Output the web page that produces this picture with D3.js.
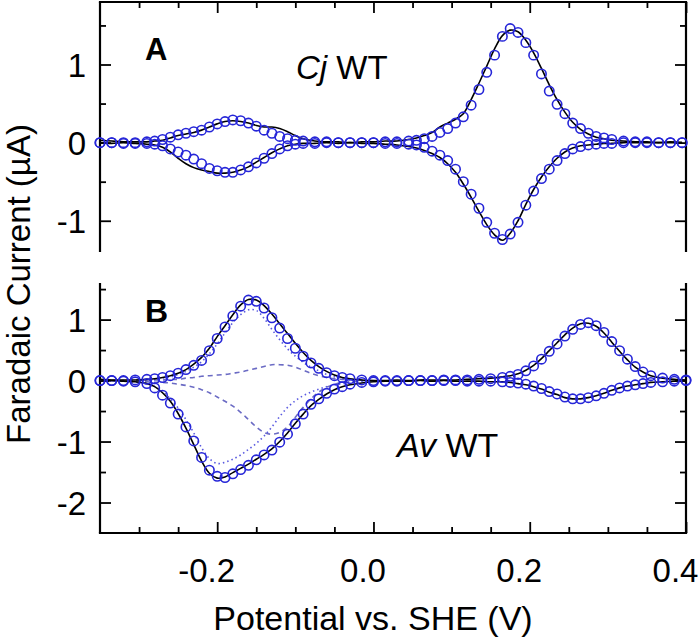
<!DOCTYPE html>
<html><head><meta charset="utf-8">
<script src="https://cdn.jsdelivr.net/npm/d3@7"></script>
<style>body{margin:0;background:#fff}svg{display:block}text{font-family:"Liberation Sans",Arial,Helvetica,sans-serif}</style>
</head><body>
<script>
// ---- Data ----
const potA = [-0.35,-0.335,-0.32,-0.305,-0.29,
  -0.28,-0.27,-0.26,-0.25,-0.24,-0.23,-0.22,-0.21,-0.2,-0.19,-0.18,-0.17,-0.16,-0.15,-0.14,-0.13,-0.12,-0.11,-0.1,-0.09,
  -0.075,-0.06,-0.045,-0.03,-0.015,0,0.015,0.03,0.045,
  0.055,0.065,0.075,0.085,0.095,0.105,0.115,0.125,0.135,0.145,0.155,0.165,0.175,0.185,0.195,0.205,0.215,0.225,0.235,0.245,0.255,0.265,0.275,0.285,0.295,0.305,
  0.32,0.335,0.35,0.365,0.38,0.395];
const fitUpA = [0,0,0,0,0.01,
  0.02,0.04,0.07,0.1,0.12,0.14,0.16,0.2,0.24,0.27,0.29,0.28,0.25,0.21,0.16,0.12,0.08,0.05,0.03,0.02,
  0.01,0.01,0,0,0,0,0.01,0.01,0.02,
  0.03,0.05,0.08,0.13,0.18,0.25,0.33,0.48,0.68,0.9,1.12,1.36,1.46,1.41,1.28,1.12,0.88,0.66,0.49,0.37,0.25,0.18,0.12,0.08,0.06,0.04,
  0.02,0.01,0.01,0,0,0];
const fitLoA = [0,0,-0.01,-0.01,-0.01,
  -0.02,-0.04,-0.08,-0.12,-0.16,-0.21,-0.27,-0.33,-0.36,-0.38,-0.38,-0.35,-0.31,-0.26,-0.2,-0.14,-0.08,-0.04,-0.02,-0.01,
  -0.01,0,0,0,0,0,-0.01,-0.01,-0.02,
  -0.03,-0.06,-0.11,-0.16,-0.23,-0.34,-0.5,-0.66,-0.84,-1.02,-1.16,-1.24,-1.17,-1.02,-0.8,-0.62,-0.46,-0.34,-0.23,-0.14,-0.08,-0.05,-0.03,-0.02,-0.01,-0.01,
  0,0,0,0,0,0];
const expUpA = [0.03,0.02,0.01,0.01,0.01,
  0.02,0.03,0.06,0.09,0.11,0.13,0.16,0.2,0.24,0.27,0.28,0.27,0.25,0.22,0.2,0.2,0.18,0.14,0.09,0.05,
  0.02,0.01,0.01,0,0.01,0.01,0.02,0.02,0.04,
  0.06,0.09,0.13,0.2,0.25,0.3,0.37,0.55,0.76,0.98,1.2,1.37,1.44,1.42,1.31,1.15,0.95,0.74,0.55,0.39,0.26,0.17,0.11,0.07,0.05,0.03,
  0.02,0.01,0.01,0,0.01,0];
const expLoA = [0,-0.01,0,-0.01,-0.02,
  -0.03,-0.06,-0.12,-0.2,-0.27,-0.32,-0.35,-0.37,-0.39,-0.39,-0.38,-0.35,-0.31,-0.25,-0.19,-0.13,-0.08,-0.04,-0.02,-0.01,
  -0.01,0,-0.01,0,-0.01,-0.01,-0.02,-0.03,-0.05,
  -0.07,-0.1,-0.14,-0.19,-0.27,-0.38,-0.53,-0.7,-0.88,-1.05,-1.18,-1.25,-1.16,-1.0,-0.79,-0.6,-0.44,-0.31,-0.2,-0.12,-0.07,-0.04,-0.03,-0.02,-0.01,-0.01,
  0,0,0,0,0,0];

const potB = [-0.35,-0.335,-0.32,-0.305,-0.29,
  -0.28,-0.27,-0.26,-0.25,-0.24,-0.23,-0.22,-0.21,-0.2,-0.19,-0.18,-0.17,-0.16,-0.15,-0.14,-0.13,-0.12,-0.11,-0.1,-0.09,-0.08,-0.07,-0.06,-0.05,-0.04,-0.03,
  -0.015,0,0.015,0.03,0.045,0.06,0.075,0.09,0.105,0.12,0.135,0.15,0.165,
  0.175,0.185,0.195,0.205,0.215,0.225,0.235,0.245,0.255,0.265,0.275,0.285,0.295,0.305,0.315,0.325,0.335,0.345,0.355,
  0.37,0.385,0.4];
const fitUpB = [0,0,0,0.01,0.02,
  0.03,0.05,0.08,0.12,0.18,0.25,0.33,0.49,0.69,0.88,1.06,1.22,1.32,1.3,1.19,1.03,0.86,0.69,0.53,0.4,0.29,0.2,0.13,0.08,0.05,0.03,
  0.01,0,0,0,0,0,0,0.01,0.01,0.01,0.02,0.03,0.05,
  0.07,0.1,0.16,0.24,0.35,0.48,0.6,0.73,0.84,0.92,0.95,0.9,0.79,0.64,0.49,0.35,0.23,0.14,0.08,
  0.04,0.02,0.01];
const fitLoB = [0,0,-0.01,-0.02,-0.05,
  -0.12,-0.24,-0.37,-0.55,-0.76,-0.99,-1.26,-1.47,-1.57,-1.59,-1.53,-1.46,-1.39,-1.3,-1.22,-1.14,-1.01,-0.88,-0.71,-0.55,-0.39,-0.3,-0.21,-0.14,-0.1,-0.06,
  -0.03,-0.02,-0.01,-0.01,0,0,0,0,0,-0.01,-0.01,-0.01,-0.02,
  -0.03,-0.04,-0.06,-0.09,-0.13,-0.18,-0.22,-0.27,-0.3,-0.3,-0.28,-0.25,-0.21,-0.16,-0.12,-0.09,-0.07,-0.05,-0.03,
  -0.02,-0.01,0];
const expUpB = [0.02,0.01,0.01,0.01,0.02,
  0.03,0.05,0.08,0.12,0.18,0.27,0.38,0.53,0.72,0.9,1.08,1.24,1.33,1.32,1.23,1.09,0.93,0.77,0.61,0.46,0.33,0.23,0.15,0.09,0.05,0.03,
  0.01,0,0,0.01,0,0.01,0.01,0.01,0.01,0.02,0.03,0.04,0.06,
  0.08,0.11,0.17,0.25,0.36,0.49,0.62,0.75,0.86,0.93,0.94,0.89,0.78,0.63,0.48,0.34,0.22,0.14,0.08,
  0.04,0.02,0.01];
const expLoB = [-0.01,0,-0.01,-0.02,-0.05,
  -0.1,-0.2,-0.34,-0.54,-0.78,-1.05,-1.32,-1.52,-1.6,-1.58,-1.51,-1.44,-1.37,-1.29,-1.21,-1.12,-1.0,-0.86,-0.7,-0.55,-0.41,-0.31,-0.22,-0.15,-0.1,-0.07,
  -0.04,-0.02,-0.01,-0.01,-0.01,0,-0.01,0,-0.01,-0.01,-0.01,-0.02,-0.02,
  -0.03,-0.05,-0.07,-0.1,-0.14,-0.19,-0.23,-0.28,-0.3,-0.3,-0.28,-0.25,-0.21,-0.16,-0.12,-0.09,-0.07,-0.05,-0.03,
  -0.02,-0.01,0];

const potCompB = [-0.35,-0.34,-0.33,-0.32,-0.31,-0.3,-0.29,-0.28,-0.27,-0.26,-0.25,-0.24,-0.23,-0.22,-0.21,-0.2,-0.19,-0.18,
  -0.17,-0.16,-0.15,-0.14,-0.13,-0.12,-0.11,-0.1,-0.09,-0.08,-0.07,-0.06,-0.05,-0.04,-0.03,-0.02,-0.01,0];
const dotUpB = [0,0,0,0,0,0.01,0.01,0.02,0.04,0.06,0.1,0.15,0.22,0.31,0.44,0.6,0.78,0.95,
  1.08,1.16,1.15,1.02,0.84,0.67,0.52,0.4,0.3,0.22,0.16,0.1,0.06,0.04,0.02,0.01,0.01,0];
const dotLoB = [0,0,-0.01,-0.01,-0.02,-0.03,-0.05,-0.1,-0.18,-0.3,-0.45,-0.64,-0.86,-1.1,-1.28,-1.36,-1.34,-1.29,
  -1.22,-1.13,-1.03,-0.91,-0.76,-0.59,-0.44,-0.33,-0.25,-0.19,-0.14,-0.1,-0.07,-0.05,-0.03,-0.02,-0.01,0];
const dashUpB = [0,0,0,0,0,0,0.01,0.01,0.01,0.02,0.02,0.04,0.05,0.07,0.08,0.09,0.1,0.12,
  0.14,0.17,0.2,0.23,0.26,0.26,0.25,0.22,0.17,0.12,0.08,0.05,0.03,0.02,0.01,0.01,0,0];
const dashLoB = [0,0,-0.01,-0.01,-0.01,-0.02,-0.02,-0.03,-0.03,-0.04,-0.06,-0.08,-0.11,-0.15,-0.2,-0.27,-0.34,-0.42,
  -0.52,-0.64,-0.76,-0.85,-0.88,-0.85,-0.76,-0.6,-0.44,-0.3,-0.19,-0.11,-0.06,-0.03,-0.02,-0.01,0,0];

const xMajor = [-0.2, 0, 0.2, 0.4];
const xMajorLabels = ["-0.2", "0.0", "0.2", "0.4"];
const xMinor = [-0.3,-0.25,-0.15,-0.1,-0.05,0.05,0.1,0.15,0.25,0.3,0.35];
const yMajorA = [-1, 0, 1];
const yMajorLabelsA = ["-1", "0", "1"];
const yMinorA = [-0.5, 0.5, 1.5];
const yMajorB = [-2, -1, 0, 1];
const yMajorLabelsB = ["-2", "-1", "0", "1"];
const yMinorB = [-1.5, -0.5, 0.5, 1.5];

// ---- Drawing ----
const W = 700, H = 638;
const svg = d3.select("body").append("svg").attr("width", W).attr("height", H);

const L = 100, R = 686;
const x = d3.scaleLinear().domain([-0.35, 0.4]).range([L, R]);
const yA = d3.scaleLinear().domain([-1.4, 1.8]).range([252, 2]);
const yB = d3.scaleLinear().domain([-2.5, 1.6]).range([533, 283]);

const BLUE = "#2626d8";
const FS = 33;

function pts(pot, vals) { return pot.map((p, i) => [p, vals[i]]); }

function panel(y, top, bottom, yMaj, yMajLabels, yMin, opts) {
  const g = svg.append("g");
  const styleAxis = sel => {
    sel.select(".domain").remove();
    sel.selectAll(".tick line").attr("stroke", "#000").attr("stroke-width", 1.8);
    sel.selectAll("text").attr("font-size", FS).attr("fill", "#000")
      .attr("font-family", '"Liberation Sans", Arial, Helvetica, sans-serif');
  };
  // left
  g.append("g").attr("transform", `translate(${L},0)`)
    .call(d3.axisLeft(y).tickValues(yMin).tickSize(-6).tickFormat("")).call(styleAxis);
  g.append("g").attr("transform", `translate(${L},0)`)
    .call(d3.axisLeft(y).tickValues(yMaj).tickSize(-11).tickPadding(14)
      .tickFormat((d, i) => yMajLabels[i])).call(styleAxis)
    .selectAll("text").attr("dy", "0.36em");
  // right
  g.append("g").attr("transform", `translate(${R},0)`)
    .call(d3.axisRight(y).tickValues(yMin).tickSize(-6).tickFormat("")).call(styleAxis);
  g.append("g").attr("transform", `translate(${R},0)`)
    .call(d3.axisRight(y).tickValues(yMaj).tickSize(-11).tickFormat("")).call(styleAxis);
  if (opts.topAxis) {
    g.append("g").attr("transform", `translate(0,${top})`)
      .call(d3.axisTop(x).tickValues(xMinor).tickSize(-6).tickFormat("")).call(styleAxis);
    g.append("g").attr("transform", `translate(0,${top})`)
      .call(d3.axisTop(x).tickValues(xMajor).tickSize(-11).tickFormat("")).call(styleAxis);
  }
  if (opts.bottomAxis) {
    g.append("g").attr("transform", `translate(0,${bottom})`)
      .call(d3.axisBottom(x).tickValues(xMinor).tickSize(-6).tickFormat("")).call(styleAxis);
    const ax = g.append("g").attr("transform", `translate(0,${bottom})`)
      .call(d3.axisBottom(x).tickValues(xMajor).tickSize(-11).tickPadding(26)
        .tickFormat((d, i) => xMajorLabels[i])).call(styleAxis);
    ax.selectAll("text").attr("dx", -11);
  }
  // spines
  const sp = g.append("g").attr("stroke", "#000").attr("stroke-width", 2.2).attr("fill", "none");
  sp.append("line").attr("x1", L).attr("x2", L).attr("y1", top).attr("y2", bottom);
  sp.append("line").attr("x1", R).attr("x2", R).attr("y1", top).attr("y2", bottom);
  if (opts.topAxis) sp.append("line").attr("x1", L - 1.1).attr("x2", R + 1.1).attr("y1", top).attr("y2", top);
  if (opts.bottomAxis) sp.append("line").attr("x1", L - 1.1).attr("x2", R + 1.1).attr("y1", bottom).attr("y2", bottom);
  return g;
}

function drawCV(y, pot, expUp, expLo, fitUp, fitLo, comps) {
  const line = d3.line().x(d => x(d[0])).y(d => y(d[1])).curve(d3.curveCatmullRom.alpha(0.5));
  const g = svg.append("g");
  if (comps) {
    comps.forEach(c => {
      g.append("path").datum(pts(c.pot, c.vals)).attr("d", line)
        .attr("fill", "none").attr("stroke", c.color).attr("stroke-width", 1.6)
        .attr("stroke-dasharray", c.dash);
    });
  }
  [expUp, expLo].forEach(v => {
    g.append("path").datum(pts(pot, v)).attr("d", line)
      .attr("fill", "none").attr("stroke", "#000").attr("stroke-width", 1.6);
  });
  [fitUp, fitLo].forEach(v => {
    g.selectAll(null).data(pts(pot, v)).enter().append("circle")
      .attr("cx", d => x(d[0])).attr("cy", d => y(d[1])).attr("r", 4.7)
      .attr("fill", "none").attr("stroke", BLUE).attr("stroke-width", 1.6);
  });
}

panel(yA, 2, 252, yMajorA, yMajorLabelsA, yMinorA, { topAxis: true, bottomAxis: false });
panel(yB, 283, 533, yMajorB, yMajorLabelsB, yMinorB, { topAxis: false, bottomAxis: true });

drawCV(yA, potA, expUpA, expLoA, fitUpA, fitLoA, null);
drawCV(yB, potB, expUpB, expLoB, fitUpB, fitLoB, [
  { pot: potCompB, vals: dashUpB, color: "#6b6bc4", dash: "5,4" },
  { pot: potCompB, vals: dashLoB, color: "#6b6bc4", dash: "5,4" },
  { pot: potCompB, vals: dotUpB, color: "#5a5ae0", dash: "1.5,3" },
  { pot: potCompB, vals: dotLoB, color: "#5a5ae0", dash: "1.5,3" }
]);

// panel labels
svg.append("text").attr("x", 145).attr("y", 60).attr("font-size", 31).attr("font-weight", "bold").text("A");
svg.append("text").attr("x", 145).attr("y", 322).attr("font-size", 32).attr("font-weight", "bold").text("B");

const tCj = svg.append("text").attr("x", 296).attr("y", 79).attr("font-size", FS);
tCj.append("tspan").attr("font-style", "italic").text("Cj");
tCj.append("tspan").text(" WT");
const tAv = svg.append("text").attr("x", 397).attr("y", 457).attr("font-size", FS + 1);
tAv.append("tspan").attr("font-style", "italic").text("Av");
tAv.append("tspan").text(" WT");

// axis titles
svg.append("text").attr("x", 373).attr("y", 630).attr("text-anchor", "middle")
  .attr("font-size", 34).text("Potential vs. SHE (V)");
svg.append("text").attr("transform", "translate(30,284) rotate(-90)").attr("text-anchor", "middle")
  .attr("font-size", 33).text("Faradaic Current (µA)");
</script>
</body></html>
